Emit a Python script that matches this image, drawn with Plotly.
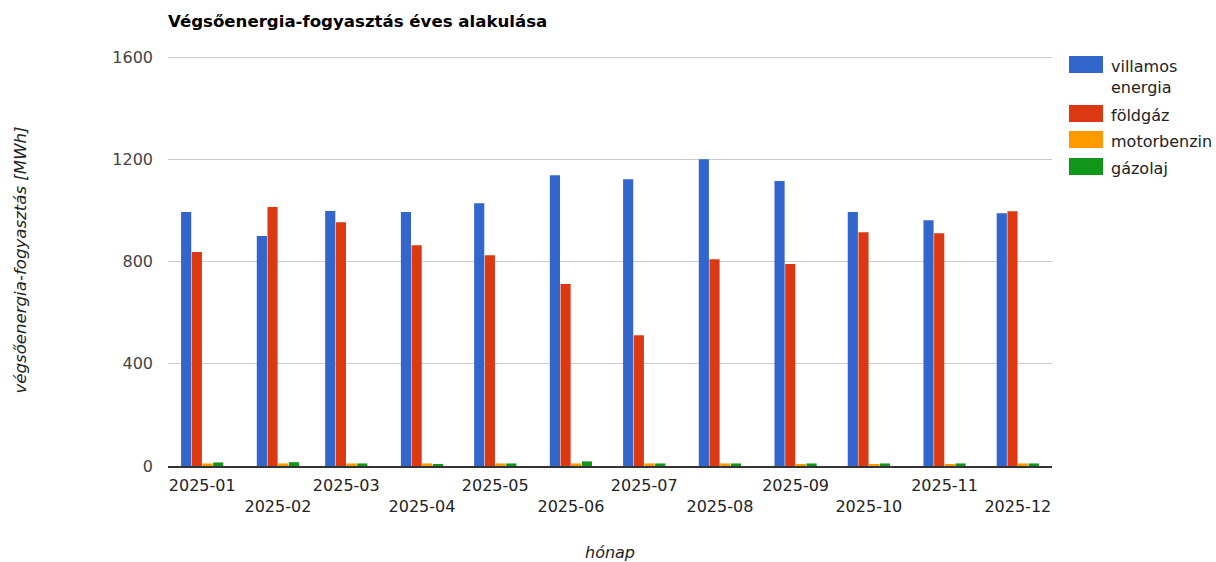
import plotly.graph_objects as go

months = ["2025-01", "2025-02", "2025-03", "2025-04", "2025-05", "2025-06",
          "2025-07", "2025-08", "2025-09", "2025-10", "2025-11", "2025-12"]
villamos = [994, 900, 998, 994, 1028, 1138, 1122, 1200, 1115, 994, 962, 989]
foldgaz = [837, 1013, 954, 864, 825, 712, 512, 809, 790, 915, 911, 997]
motorbenzin = [10, 10, 10, 10, 10, 10, 10, 10, 6, 6, 5, 10]
gazolaj = [14, 15, 10, 5, 10, 18, 10, 10, 10, 10, 10, 10]

series = [
    ("villamos<br>energia", villamos, "#3366cc"),
    ("földgáz", foldgaz, "#dc3912"),
    ("motorbenzin", motorbenzin, "#ff9900"),
    ("gázolaj", gazolaj, "#109618"),
]

ticktext = [m if i % 2 == 0 else "<br>" + m for i, m in enumerate(months)]

W, H = 1216, 562
L, R, T, B = 168, 164, 54, 96

fig = go.Figure()
for name, vals, col in series:
    fig.add_trace(go.Bar(x=months, y=vals, name=name, showlegend=False,
                         marker=dict(color=col, line=dict(width=0))))

font = "DejaVu Sans, Verdana, sans-serif"

# manual legend (Google-Charts-like wide swatches)
pw = W - L - R
ph = H - T - B
legend_tops = [56, 105, 131, 158]  # pixel tops of swatches
shapes = []
annotations = []
for (name, vals, col), top in zip(series, legend_tops):
    x0 = (1069 - L) / pw
    x1 = (1103 - L) / pw
    y0 = 1 - (top + 17 - T) / ph
    y1 = 1 - (top - T) / ph
    shapes.append(dict(type="rect", xref="paper", yref="paper", x0=x0, x1=x1, y0=y0, y1=y1,
                       fillcolor=col, line=dict(width=0)))
    annotations.append(dict(xref="paper", yref="paper", x=(1109 - L) / pw, y=1 - (top - 1 - T) / ph,
                            xanchor="left", yanchor="top", showarrow=False, align="left",
                            text=name, font=dict(family=font, size=16, color="#222")))

fig.update_layout(
    width=W, height=H,
    margin=dict(l=L, r=R, t=T, b=B, autoexpand=False),
    paper_bgcolor="white", plot_bgcolor="white",
    font=dict(family=font, size=16, color="#444"),
    barmode="group", bargap=0.375, bargroupgap=0.05,
    showlegend=False,
    shapes=shapes, annotations=annotations,
    title=dict(text="<b>Végsőenergia-fogyasztás éves alakulása</b>",
               x=168/1216, xanchor="left", y=1-21/562, yanchor="middle",
               font=dict(family=font, size=16.6, color="#000")),
    xaxis=dict(tickmode="array", tickvals=months, ticktext=ticktext, tickangle=0,
               showline=True, linecolor="#333", linewidth=2, ticks="", automargin=False,
               ticklabelstandoff=4,
               tickfont=dict(size=16, color="#222"),
               title=dict(text="<i>hónap</i>", font=dict(size=16, color="#222"), standoff=33)),
    yaxis=dict(range=[0, 1612], tickvals=[0, 400, 800, 1200, 1600],
               showgrid=True, gridcolor="#cccccc", gridwidth=1, zeroline=False,
               automargin=False,
               ticklabelstandoff=14, tickfont=dict(size=16, color="#444"),
               title=dict(text="<i>végsőenergia-fogyasztás [MWh]</i>",
                          font=dict(size=16.6, color="#222"), standoff=81)),
)

fig.write_html("out.html", config={"displayModeBar": False},
               post_script="document.body.style.margin='0';document.body.style.overflow='hidden';")
